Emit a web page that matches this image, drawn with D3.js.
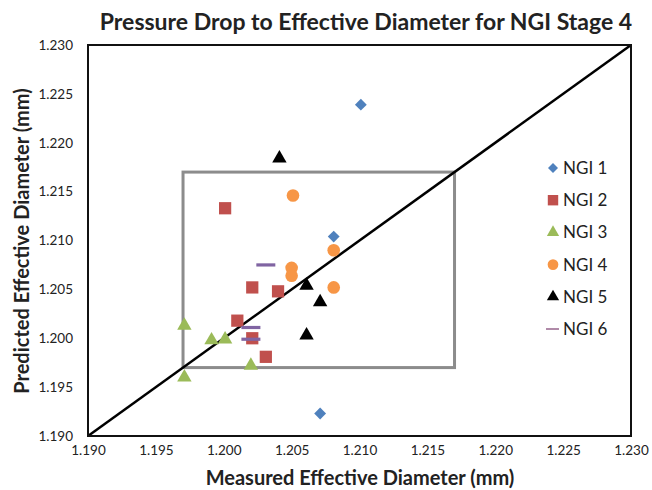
<!DOCTYPE html>
<html>
<head>
<meta charset="utf-8">
<script src="https://cdn.jsdelivr.net/npm/d3@7"></script>
<style>
  body { margin:0; background:#fff; }
  text { font-family: Lato, "Open Sans", sans-serif; fill:#222; }
</style>
</head>
<body>
<div class="canvas"></div>
<script>
// measured vs predicted diameters (mm)
const ngi1 = [[1.2101,1.2239],[1.2081,1.2104],[1.2071,1.1923]]
const ngi2 = [[1.2001,1.2133],[1.2021,1.2052],[1.2040,1.2048],[1.2010,1.2018],[1.2021,1.2000],[1.2031,1.1981]]
const ngi3 = [[1.1971,1.2013],[1.1991,1.1998],[1.2001,1.1999],[1.2020,1.1972],[1.1971,1.1960]]
const ngi4 = [[1.2051,1.2146],[1.2081,1.2090],[1.2050,1.2072],[1.2050,1.2064],[1.2081,1.2052]]
const ngi5 = [[1.2041,1.2184],[1.2061,1.2054],[1.2071,1.2037],[1.2061,1.2003]]
const ngi6 = [[1.2031,1.2075],[1.2020,1.2011],[1.2020,1.1999]]
const seriesNames = ["NGI 1","NGI 2","NGI 3","NGI 4","NGI 5","NGI 6"]
const ticks = [1.190,1.195,1.200,1.205,1.210,1.215,1.220,1.225,1.230]
const box = [1.197,1.217]

const dim = { width:652, height:490 }
const m = { left:88, right:631, top:45, bottom:436 }

const svg = d3.select(".canvas").append("svg").attr("width",dim.width).attr("height",dim.height)

const x = d3.scaleLinear().domain([1.19,1.23]).range([m.left,m.right])
const y = d3.scaleLinear().domain([1.19,1.23]).range([m.bottom,m.top])

const series = [
  { name:seriesNames[0], data:ngi1, shape:"diamond", color:"#4F81BD" },
  { name:seriesNames[1], data:ngi2, shape:"square",  color:"#C0504D" },
  { name:seriesNames[2], data:ngi3, shape:"triangle",color:"#9BBB59" },
  { name:seriesNames[3], data:ngi4, shape:"circle",  color:"#F79646" },
  { name:seriesNames[4], data:ngi5, shape:"triangle",color:"#000000" },
  { name:seriesNames[5], data:ngi6, shape:"dash",    color:"#8064A2" }
]

// axes (labels only, no tick marks)
const xAxis = d3.axisBottom(x).tickValues(ticks).tickSize(0).tickPadding(9).tickFormat(d3.format(".3f"))
const yAxis = d3.axisLeft(y).tickValues(ticks).tickSize(0).tickPadding(15).tickFormat(d3.format(".3f"))
svg.append("g").attr("transform",`translate(0,${m.bottom})`).call(xAxis)
  .call(g=>g.select(".domain").remove())
  .selectAll("text").style("font-size","13.5px").style("font-family","Lato, sans-serif").attr("fill","#222")
svg.append("g").attr("transform",`translate(${m.left},0)`).call(yAxis)
  .call(g=>g.select(".domain").remove())
  .selectAll("text").style("font-size","13.5px").style("font-family","Lato, sans-serif").attr("fill","#222")

// gray reference box
svg.append("rect")
  .attr("x",x(box[0])).attr("y",y(box[1]))
  .attr("width",x(box[1])-x(box[0])).attr("height",y(box[0])-y(box[1]))
  .attr("fill","none").attr("stroke","#8c8c8c").attr("stroke-width",3)

// y = x line
svg.append("line")
  .attr("x1",x(1.19)).attr("y1",y(1.19)).attr("x2",x(1.23)).attr("y2",y(1.23))
  .attr("stroke","#000").attr("stroke-width",2.5)

// frame
svg.append("rect")
  .attr("x",m.left).attr("y",m.top).attr("width",m.right-m.left).attr("height",m.bottom-m.top)
  .attr("fill","none").attr("stroke","#111").attr("stroke-width",2)

const types = { diamond:d3.symbolSquare, square:d3.symbolSquare, triangle:d3.symbolTriangle, circle:d3.symbolCircle }

const drawMarker = (g, s, k) => {
  if (s.shape === "dash") {
    return g.append("rect").attr("x",-9.5*k).attr("y",-1.6).attr("width",19*k).attr("height",3.2).attr("fill",s.color)
  }
  const sizes = { diamond:70, square:150, triangle:90, circle:125 }
  const p = g.append("path").attr("d",d3.symbol().type(types[s.shape]).size(sizes[s.shape]*k*k)).attr("fill",s.color)
  if (s.shape === "diamond") p.attr("transform","rotate(45)")
  return p
}

series.forEach(s => {
  const pts = svg.append("g").selectAll("g").data(s.data).enter().append("g")
    .attr("transform",d=>`translate(${x(d[0])},${y(d[1])})`)
  pts.each(function(){ drawMarker(d3.select(this), s, 1) })
})

// legend
const legend = svg.append("g").attr("transform","translate(553,168)")
series.forEach((s,i)=>{
  const row = legend.append("g").attr("transform",`translate(0,${i*32.2})`)
  if (s.shape === "dash") {
    row.append("rect").attr("x",-7).attr("y",-1).attr("width",13).attr("height",2).attr("fill","#b08aa8")
  } else {
    drawMarker(row, s, 0.85)
  }
  row.append("text").attr("x",10).attr("y",6).text(s.name)
    .style("font-size","17px").attr("fill","#111")
})

// title + axis titles
svg.append("text").attr("x",366).attr("y",30).attr("text-anchor","middle")
  .style("font-size","23px").style("font-weight","bold").attr("fill","#111")
  .text("Pressure Drop to Effective Diameter for NGI Stage 4")
svg.append("text").attr("x",360).attr("y",485).attr("text-anchor","middle")
  .style("font-size","20px").style("font-weight","bold").attr("fill","#111")
  .text("Measured Effective Diameter (mm)")
svg.append("text").attr("transform","translate(29,241) rotate(-90)").attr("text-anchor","middle")
  .style("font-size","20px").style("font-weight","bold").attr("fill","#111")
  .text("Predicted Effective Diameter (mm)")
</script>
</body>
</html>
